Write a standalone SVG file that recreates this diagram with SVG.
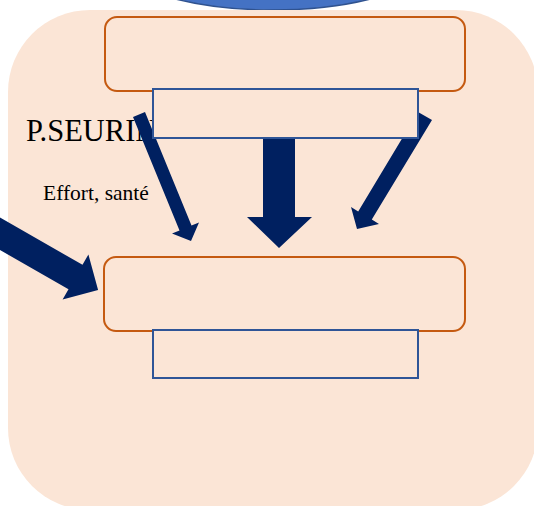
<svg xmlns="http://www.w3.org/2000/svg" width="534" height="506" viewBox="0 0 534 506">
<style>
.bg{fill:#FBE5D6}
.orange{fill:#FBE5D6;stroke:#C55A11;stroke-width:2}
.bluebox{fill:#FBE5D6;stroke:#2F5597;stroke-width:2}
.arrow{fill:#002060}
.serif{font-family:"Liberation Serif","Times New Roman",serif;fill:#000}
</style>
<g id="circle-top">
<ellipse cx="273" cy="-60" rx="180" ry="70" fill="#4472C4" stroke="#2F528F" stroke-width="1.5"/>
</g>
<rect id="background" class="bg" x="8" y="10" width="530" height="500" rx="82" ry="82"/>
<g id="label-name">
<text class="serif" x="26" y="141" font-size="30.5">P.SEURIN</text>
</g>
<g id="label-effort">
<text class="serif" x="43" y="200" font-size="21.5">Effort, santé</text>
</g>
<g id="top-box">
<rect class="orange" x="105" y="17" width="360" height="74" rx="12" ry="12"/>
</g>
<g id="connectors">
<polygon class="arrow" points="263,90 295,90 295,217 312,217 279,248 247,217 263,217"/>
<polygon class="arrow" points="133,117 145,112 191.5,225.5 199,222.5 191,241 172,233.5 179.5,230.5"/>
<polygon class="arrow" points="432,120 371.8,219.6 379,224 357,229 351,207 358.2,211.4 418,112"/>
<polygon class="arrow" points="-21.7,205.2 82.5,264.8 88.4,254.4 98.1,289.9 62.6,299.6 68.5,289.2 -35.7,229.6"/>
</g>
<g id="top-label-box">
<rect class="bluebox" x="153" y="89" width="265" height="49"/>
</g>
<g id="bottom-box">
<rect class="orange" x="104" y="257" width="361" height="74" rx="12" ry="12"/>
</g>
<g id="bottom-label-box">
<rect class="bluebox" x="153" y="330" width="265" height="48"/>
</g>
</svg>
